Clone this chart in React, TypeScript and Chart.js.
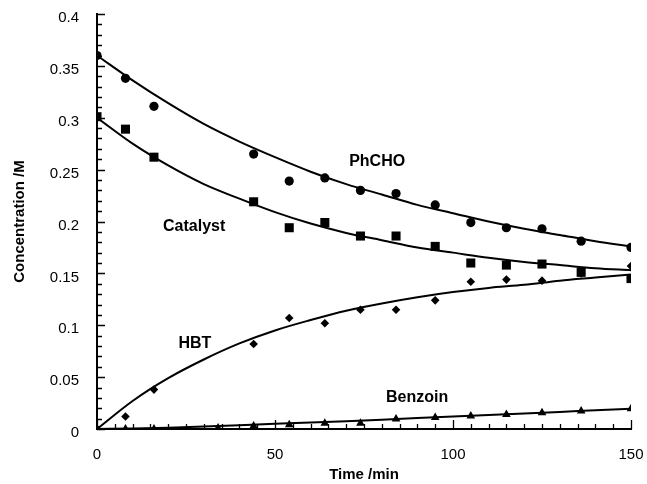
import React, { useEffect, useRef } from "react";
import { Chart, registerables } from "chart.js";

Chart.register(...registerables);

// Measured sample times (min)
const sampleTimes = [0, 8, 16, 44, 54, 64, 74, 84, 95, 105, 115, 125, 136, 150];
const benzoinTimes = [0, 8, 16, 34, 44, 54, 64, 74, 84, 95, 105, 115, 125, 136, 150];

// Measured concentrations (M)
const phchoData = [0.36, 0.338, 0.311, 0.265, 0.239, 0.242, 0.23, 0.227, 0.216, 0.199, 0.194, 0.193, 0.181, 0.175];
const catalystData = [0.301, 0.289, 0.262, 0.219, 0.194, 0.199, 0.186, 0.186, 0.176, 0.16, 0.158, 0.159, 0.151, 0.145];
const hbtData = [0, 0.012, 0.038, 0.082, 0.107, 0.102, 0.115, 0.115, 0.124, 0.142, 0.144, 0.143, 0.15, 0.157];
const benzoinData = [0, 0, 0, 0.001, 0.003, 0.004, 0.0055, 0.0055, 0.0096, 0.011, 0.0125, 0.014, 0.0157, 0.0174, 0.0196];

// Fitted curves
const curveTimes = [0, 10, 20, 30, 40, 50, 60, 70, 80, 90, 100, 110, 120, 130, 140, 150];
const phchoFit = [0.36, 0.336, 0.314, 0.294, 0.277, 0.262, 0.248, 0.236, 0.226, 0.216, 0.208, 0.2, 0.193, 0.187, 0.181, 0.176];
const catalystFit = [0.3, 0.275, 0.254, 0.236, 0.222, 0.209, 0.198, 0.189, 0.182, 0.175, 0.17, 0.165, 0.161, 0.158, 0.155, 0.153];
const hbtFit = [0, 0.027, 0.049, 0.067, 0.0825, 0.095, 0.105, 0.114, 0.121, 0.127, 0.132, 0.136, 0.139, 0.143, 0.146, 0.149];
const benzoinFit = [0, 0.0005, 0.0013, 0.0023, 0.0035, 0.005, 0.0062, 0.0075, 0.009, 0.0105, 0.012, 0.0135, 0.015, 0.0165, 0.018, 0.0195];

// Axis ticks
const xTicks = [0, 50, 100, 150];
const yTicks = [0, 0.05, 0.1, 0.15, 0.2, 0.25, 0.3, 0.35, 0.4];
const yTickLabels = ["0", "0.05", "0.1", "0.15", "0.2", "0.25", "0.3", "0.35", "0.4"];

// In-plot labels
const annotationTexts = ["PhCHO", "Catalyst", "HBT", "Benzoin"];
const annotationX = [78.7, 27.3, 27.5, 89.9];
const annotationY = [0.258, 0.195, 0.082, 0.03];

const FONT = "'Liberation Sans', Arial, Helvetica, sans-serif";

const zip = (xs: number[], ys: number[]) => xs.map((x, i) => ({ x, y: ys[i] }));

const inwardTicks = {
  id: "inwardTicks",
  afterDatasetsDraw(chart: any) {
    const { ctx, chartArea, scales } = chart;
    const xs = scales.x;
    const ys = scales.y;
    ctx.save();
    ctx.strokeStyle = "#000";
    ctx.lineWidth = 1.3;
    ctx.beginPath();
    for (let i = 0; i <= 30; i++) {
      const v = i * 5;
      const px = Math.round(xs.getPixelForValue(v)) + 0.5;
      const len = i % 10 === 0 ? 9 : 5;
      ctx.moveTo(px, chartArea.bottom);
      ctx.lineTo(px, chartArea.bottom - len);
    }
    for (let i = 0; i <= 40; i++) {
      const v = i * 0.01;
      const py = Math.round(ys.getPixelForValue(v)) + 0.5;
      const len = i % 5 === 0 ? 8 : 5;
      ctx.moveTo(chartArea.left, py);
      ctx.lineTo(chartArea.left + len, py);
    }
    ctx.stroke();
    ctx.restore();
  },
};

const textLabels = {
  id: "textLabels",
  afterDatasetsDraw(chart: any) {
    const { ctx, scales } = chart;
    ctx.save();
    ctx.fillStyle = "#000";
    ctx.font = `bold 16px ${FONT}`;
    ctx.textAlign = "center";
    ctx.textBaseline = "middle";
    annotationTexts.forEach((t, i) => {
      ctx.fillText(t, scales.x.getPixelForValue(annotationX[i]), scales.y.getPixelForValue(annotationY[i]));
    });
    ctx.restore();
  },
};

export default function App() {
  const ref = useRef<HTMLCanvasElement | null>(null);

  useEffect(() => {
    document.body.style.margin = "0";
    const canvas = ref.current;
    if (!canvas) return;

    const curve = (data: number[]) => ({
      type: "line" as const,
      data: zip(curveTimes, data),
      borderColor: "#000",
      borderWidth: 2,
      pointRadius: 0,
      cubicInterpolationMode: "monotone" as const,
      fill: false,
      order: 2,
    });
    const pts = (xs: number[], data: number[], style: string, r: number) => ({
      type: "scatter" as const,
      data: zip(xs, data),
      pointStyle: style,
      pointRadius: r,
      pointBackgroundColor: "#000",
      pointBorderColor: "#000",
      pointBorderWidth: 0,
      showLine: false,
      order: 1,
    });

    const chart = new Chart(canvas, {
      type: "scatter",
      data: {
        datasets: [
          curve(phchoFit),
          curve(catalystFit),
          curve(hbtFit),
          curve(benzoinFit),
          pts(sampleTimes, phchoData, "circle", 4.6),
          pts(sampleTimes, catalystData, "rect", 6.4),
          pts(sampleTimes, hbtData, "rectRot", 4.3),
          pts(benzoinTimes, benzoinData, "triangle", 5),
        ] as any,
      },
      options: {
        animation: false,
        responsive: false,
        devicePixelRatio: 1,
        layout: { padding: { top: 14, right: 16, left: 0, bottom: 0 } },
        plugins: {
          legend: { display: false },
          tooltip: { enabled: false },
        },
        scales: {
          x: {
            type: "linear",
            min: 0,
            max: 150,
            grid: { display: false },
            border: { display: true, color: "#000", width: 2 },
            afterBuildTicks: (s: any) => {
              s.ticks = xTicks.map((v) => ({ value: v }));
            },
            afterFit: (s: any) => {
              s.height = 55;
              s.paddingLeft = 0;
              s.paddingRight = 0;
            },
            ticks: {
              color: "#000",
              padding: 9,
              font: { family: FONT, size: 15 },
              maxRotation: 0,
              callback: (v: any) => String(v),
            },
            title: {
              display: true,
              text: "Time /min",
              color: "#000",
              font: { family: FONT, size: 15, weight: "bold" },
              padding: { top: 0, bottom: 0 },
            },
          },
          y: {
            type: "linear",
            min: 0,
            max: 0.4,
            grid: { display: false },
            border: { display: true, color: "#000", width: 2 },
            afterBuildTicks: (s: any) => {
              s.ticks = yTicks.map((v) => ({ value: v }));
            },
            afterFit: (s: any) => {
              s.width = 97;
              s.paddingTop = 0;
              s.paddingBottom = 0;
            },
            ticks: {
              color: "#000",
              padding: 10,
              labelOffset: 4,
              font: { family: FONT, size: 15 },
              callback: (v: any) => {
                const i = yTicks.findIndex((t) => Math.abs(t - Number(v)) < 1e-9);
                return i >= 0 ? yTickLabels[i] : "";
              },
            },
            title: {
              display: true,
              text: "Concentration /M",
              color: "#000",
              font: { family: FONT, size: 15, weight: "bold" },
              padding: { top: 11, bottom: 0 },
            },
          },
        },
      } as any,
      plugins: [inwardTicks, textLabels],
    });

    return () => chart.destroy();
  }, []);

  return (
    <div style={{ width: 647, height: 484, background: "#fff" }}>
      <canvas ref={ref} width={647} height={484} style={{ display: "block" }} />
    </div>
  );
}
